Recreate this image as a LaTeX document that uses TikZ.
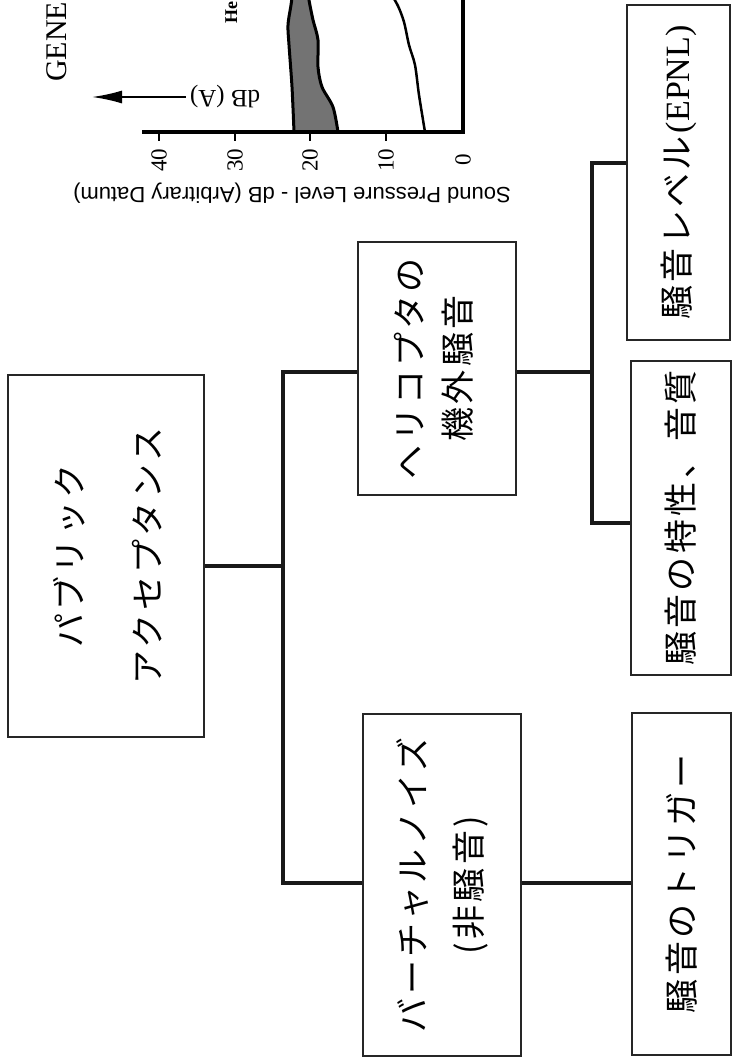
\documentclass[tikz,border=0pt]{standalone}
\usepackage{graphicx}
\usepackage{fontspec}
\setmainfont{Liberation Serif}
\newfontfamily\jp[LetterSpace=10]{Noto Sans CJK JP}
\newfontfamily\sansf{Liberation Sans}
\usetikzlibrary{arrows.meta}
\newcommand\twol[3]{\rotatebox{90}{\jp\fontsize{34}{#3}\selectfont\begin{tabular}{@{}c@{}}#1\\#2\end{tabular}}}
\newcommand\onel[1]{\rotatebox{90}{\jp\fontsize{34}{40}\selectfont #1}}
\begin{document}
\begin{tikzpicture}[x=1pt,y=-1pt,
  box/.style n args={2}{draw=black!85, line width=1.4pt, inner sep=0pt,
    minimum width=#1, minimum height=#2},
  conn/.style={line width=4pt, black!90},
  axis/.style={line width=3.3pt},
  tick/.style={font=\fontsize{23}{26}\selectfont, rotate=90, inner sep=0pt}]
\fill[white] (0,0) rectangle (734,1057);
\useasboundingbox (0,0) rectangle (734,1057);
\clip (0,0) rectangle (734,1057);

% ---- chart fragment at the top ----
\draw[line width=3pt, fill=black!55]
  plot[smooth] coordinates {(294,132) (292,87) (289,45) (288,25) (291,5) (293,-10)}
  -- plot[smooth] coordinates {(308,-10) (309,0) (313,20) (318,40) (318,67) (322,87) (333,107) (338,132)}
  -- cycle;
\draw[line width=2.5pt] plot[smooth] coordinates {(425,132) (419,95) (415,65) (409,45) (404,22) (398,6) (390,-8)};
\draw[axis] (142,132) -- (464.6,132);
\draw[axis] (463,-5) -- (463,133.6);
\foreach \x/\l in {159/40,235/30,310/20,386/10}{
  \draw[line width=2.5pt] (\x,132) -- (\x,141);
  \node[tick] at (\x,160) {\l};
}
\node[tick] (t0) at (463,160) {0};
\node[rotate=180, font=\sansf\fontsize{22}{25}\selectfont] (ylab) at (292,193)
  {Sound Pressure Level - dB (Arbitrary Datum)};
\node[rotate=180, font=\fontsize{25}{28}\selectfont, inner sep=4pt] (dba) at (225,97) {dB (A)};
\coordinate (tip) at (92,97);
\draw[line width=2pt, -{Latex[length=30pt,width=13pt]}] (dba.east) -- (tip);
\node[rotate=90, anchor=base west, inner sep=0pt, font=\fontsize{30}{34}\selectfont] (gene) at (66,82) {GENE};
\node[rotate=90, anchor=base west, inner sep=0pt, font=\bfseries\fontsize{18}{22}\selectfont] (he) at (237,24) {He};

% ---- tree ----
\node[box={196pt}{362pt}] (root) at (106,556)
  {\twol{パブリック}{アクセプタンス}{78pt}};
\node[box={158pt}{253pt}] (heli) at (437,368.5)
  {\twol{ヘリコプタの}{機外騒音}{48pt}};
\node[box={158pt}{342pt}] (virt) at (442,885)
  {\twol{バーチャルノイズ}{(非騒音)}{56pt}};
\node[box={103pt}{335pt}] (epnl) at (678.5,172.5)
  {\rotatebox{90}{{\jp\fontsize{34}{40}\selectfont 騒音レベル}\hspace{3pt}{\fontsize{34}{40}\selectfont (EPNL)}}};
\node[box={100pt}{314pt}] (char) at (681,518)
  {\onel{騒音の特性、音質}};
\node[box={99pt}{342pt}] (trig) at (681.5,884)
  {\onel{騒音のトリガー}};

\coordinate (a1) at (283,372);
\coordinate (a2) at (283,566);
\coordinate (a3) at (283,883);
\coordinate (b1) at (592,163);
\coordinate (b2) at (592,372);
\coordinate (b3) at (592,523);
\draw[conn] (root.east |- a2) -- (a2);
\draw[conn] (heli.west |- a1) -- (a1) -- (a3) -- (virt.west |- a3);
\draw[conn] (heli.east |- b2) -- (b2);
\draw[conn] (epnl.west |- b1) -- (b1) -- (b3) -- (char.west |- b3);
\draw[conn] (virt.east |- a3) -- (trig.west |- a3);
\end{tikzpicture}
\end{document}
